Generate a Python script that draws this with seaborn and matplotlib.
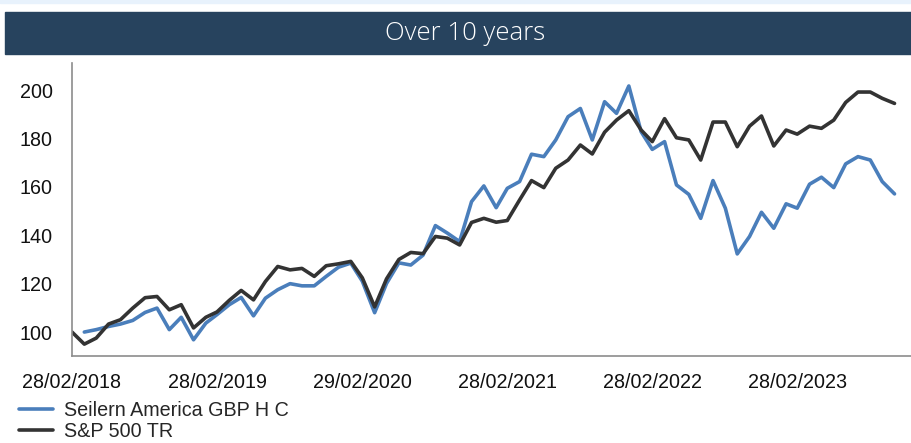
import numpy as np
import pandas as pd
import matplotlib
matplotlib.use("Agg")
import matplotlib.pyplot as plt
import matplotlib.dates as mdates
from matplotlib.patches import Rectangle
import seaborn as sns

# Monthly index values, rebased to 100 at 28/02/2018
dates = pd.date_range("2018-02-28", periods=69, freq="ME")

seilern = [np.nan, 100, 101, 102.3, 103.3, 104.8, 108.1, 109.9, 101, 106.1,
           96.8, 103.7, 107.2, 111.3, 114.3, 106.7, 114, 117.5, 120, 119.1,
           119.1, 123, 126.8, 128.5, 121, 108, 120.1, 128.6, 127.7, 131.8,
           144, 140.9, 137.4, 153.9, 160.4, 151.4, 159.4, 162.2, 173.5, 172.5,
           179.4, 189, 192.4, 179.4, 195.2, 190.4, 201.7, 182.8, 175.5, 178.7,
           160.8, 156.9, 147, 162.6, 151.2, 132.3, 139.5, 149.5, 142.9, 153,
           151.2, 161.1, 164, 159.7, 169.5, 172.5, 171.1, 162.2, 157.1]

sp500 = [100, 95, 97.5, 103.3, 105.1, 109.9, 114.2, 114.7, 109.2, 111.3,
         101.7, 106.1, 108.3, 113.1, 117.2, 113.3, 120.9, 127.1, 125.7, 126.3,
         123, 127.4, 128.2, 129.2, 122.4, 110.4, 122, 130, 132.9, 132.4,
         139.5, 138.8, 136, 145.3, 147, 145.4, 146.1, 154.6, 162.6, 159.7,
         167.7, 171.1, 177.3, 173.6, 182.6, 187.6, 191.5, 183.5, 178.7, 188.2,
         180.3, 179.4, 171.1, 186.8, 186.8, 176.6, 185.1, 189.3, 176.9, 183.5,
         181.8, 185.1, 184.2, 187.6, 194.9, 199.2, 199.2, 196.6, 194.5]

series_names = ["Seilern America GBP H C", "S&P 500 TR"]
series_colors = ["#4a7ebb", "#333333"]

tick_dates = pd.to_datetime(["2018-02-28", "2019-02-28", "2020-02-29",
                             "2021-02-28", "2022-02-28", "2023-02-28"])
y_ticks = [100, 120, 140, 160, 180, 200]

df = pd.concat([
    pd.DataFrame({"date": dates, "value": seilern, "series": series_names[0]}),
    pd.DataFrame({"date": dates, "value": sp500, "series": series_names[1]}),
], ignore_index=True)

sns.set_style("white")
plt.rcParams["font.family"] = ["Liberation Sans", "DejaVu Sans"]

fig = plt.figure(figsize=(9.12, 4.43), dpi=100)
ax = fig.add_axes([72 / 912, 1 - 356 / 443, 1 - 72 / 912, (356 - 63) / 443])

sns.lineplot(data=df, x="date", y="value", hue="series", hue_order=series_names,
             palette=series_colors, linewidth=2.6, ax=ax, legend=False)

# header strip and title bar
fig.patches.append(Rectangle((0, 1 - 3 / 443), 1, 3 / 443, transform=fig.transFigure,
                             color="#e8f2fc", zorder=0))
fig.patches.append(Rectangle((5 / 912, 1 - 54 / 443), 1, 42 / 443, transform=fig.transFigure,
                             color="#27435e", zorder=0))
fig.text(0.51, 1 - 33 / 443, "Over 10 years", color="white", fontsize=18.5,
         family=["Open Sans", "DejaVu Sans"], weight="light", ha="center", va="center")

ax.set_xlim(pd.Timestamp("2018-02-28"), pd.Timestamp("2023-12-14"))
ax.set_ylim(90.1, 211.2)
ax.set_xticks(tick_dates)
ax.xaxis.set_major_formatter(mdates.DateFormatter("%d/%m/%Y"))
ax.set_yticks(y_ticks)
ax.set_xlabel("")
ax.set_ylabel("")

for side in ["top", "right"]:
    ax.spines[side].set_visible(False)
for side in ["left", "bottom"]:
    ax.spines[side].set_color("#8c8c8c")
    ax.spines[side].set_linewidth(1.2)
ax.tick_params(axis="both", colors="#8c8c8c", length=8, width=1.2, labelsize=14.2,
               labelcolor="#111111")
ax.tick_params(axis="y", pad=6)
ax.tick_params(axis="x", pad=4.5)

handles = [plt.Line2D([], [], color=c, linewidth=2.6) for c in series_colors]
fig.legend(handles, series_names, loc="lower left", bbox_to_anchor=(0.012, -0.014),
           frameon=False, fontsize=14.2, handlelength=1.75, handletextpad=0.55,
           labelspacing=0.12, borderaxespad=0)

fig.savefig("out.png", dpi=100)
